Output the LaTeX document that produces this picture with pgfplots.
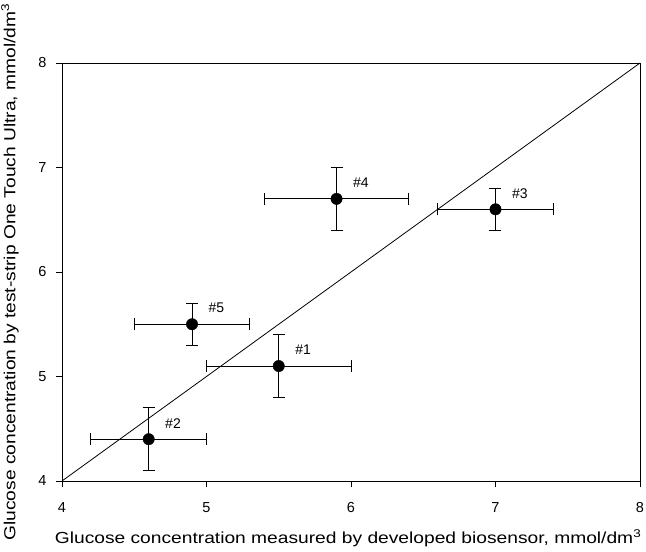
\documentclass[border=0pt]{standalone}
\usepackage{fontspec}
\setmainfont{Liberation Sans}
\newfontfamily\labelfont{Liberation Sans}[FakeStretch=1.2]
\usepackage{pgfplots}
\pgfplotsset{compat=1.18}
\begin{document}
\begin{tikzpicture}
\begin{axis}[
  scale only axis, width=578pt, height=418pt,
  xmin=4, xmax=8, ymin=4, ymax=8,
  xtick={4,5,6,7,8}, ytick={4,5,6,7,8},
  xtick pos=bottom, ytick pos=left,
  tick align=outside, major tick length=6pt,
  tick style={black, line width=0.9pt},
  axis line style={black, line width=0.9pt},
  /pgf/number format/assume math mode=true,
  ticklabel style={font=\fontsize{14.5}{17}\selectfont},
  xticklabel style={yshift=-12pt},
  yticklabel style={xshift=-6pt},
  label style={font=\labelfont\fontsize{16}{19}\selectfont},
  xlabel={Glucose concentration measured by developed biosensor, mmol/dm\textsuperscript{3}},
  ylabel={Glucose concentration by test-strip One Touch Ultra, mmol/dm\textsuperscript{3}},
  xlabel style={at={(axis description cs:0.495,-0.1364)}, anchor=center},
  ylabel style={at={(axis description cs:-0.090,0.5)}, anchor=center},
]
\coordinate (o) at (rel axis cs:0,0);
\addplot[black, line width=0.8pt] coordinates {(4,4) (8,8)};
\addplot[only marks, mark=*, black, mark size=5.7pt,
  mark options={fill=black},
  error bars/.cd, x dir=both, x explicit, y dir=both, y explicit,
  error bar style={black, line width=0.9pt},
  error mark options={black, rotate=90, mark size=6pt, line width=0.9pt}]
  table[x=x, y=y, x error=ex, y error=ey] {
x   y   ex  ey  id
5.5 5.1 0.5 0.3 1
4.6 4.4 0.4 0.3 2
7.0 6.6 0.4 0.2 3
5.9 6.7 0.5 0.3 4
4.9 5.5 0.4 0.2 5
};
\addplot[only marks, mark=none,
  point meta=explicit symbolic,
  nodes near coords={\#\pgfplotspointmeta},
  nodes near coords style={anchor=west, xshift=13pt, yshift=16pt, black, font=\fontsize{14}{16}\selectfont}]
  table[x=x, y=y, meta=id] {
x   y   id
5.5 5.1 1
4.6 4.4 2
7.0 6.6 3
5.9 6.7 4
4.9 5.5 5
};
\end{axis}
\pgfresetboundingbox
\path (o) ++(-62pt,-71pt) rectangle ++(646pt,552pt);
\end{tikzpicture}
\end{document}
